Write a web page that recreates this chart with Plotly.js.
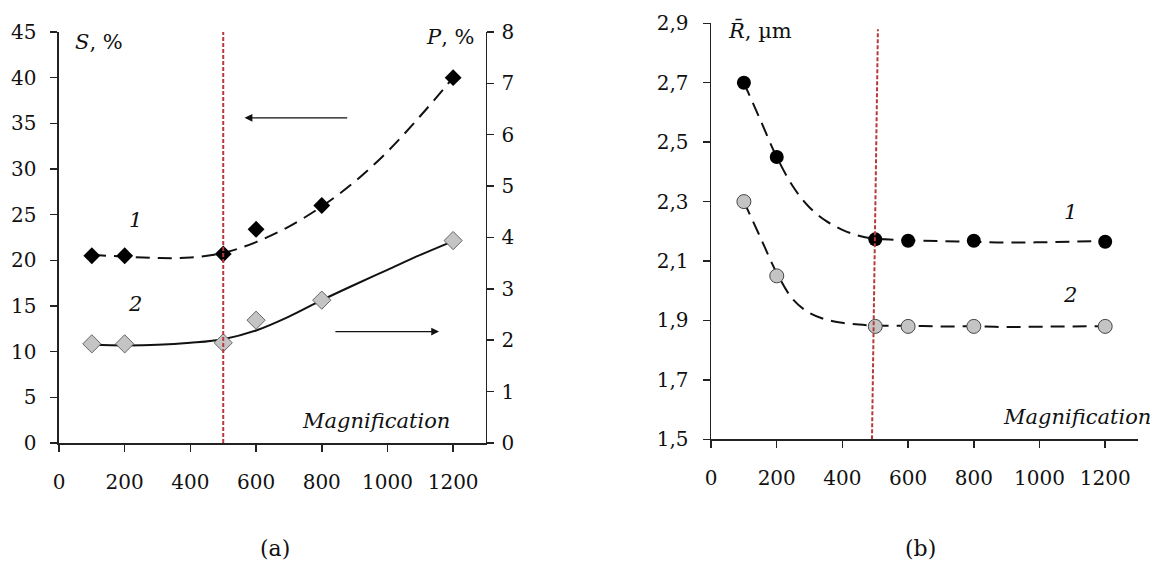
<!DOCTYPE html>
<html><head><meta charset="utf-8">
<script src="https://cdn.plot.ly/plotly-3.0.1.min.js"></script>
<style>body{margin:0;background:#fff}#chart{width:1150px;height:570px}</style>
</head><body><div id="chart"></div>
<script>
// ---- data (a) ----
const magX = [100, 200, 500, 600, 800, 1200];
const sVals = [20.5, 20.5, 20.7, 23.4, 26.0, 40.0];
const pVals = [1.93, 1.93, 1.95, 2.39, 2.78, 3.94];
const trendX = [100, 200, 300, 400, 500, 600, 700, 800, 900, 1000, 1100, 1200];
const sTrendY = [20.6, 20.4, 20.25, 20.3, 20.8, 22.0, 23.7, 25.9, 28.6, 31.9, 35.8, 40.0];
const pTrendY = [1.91, 1.90, 1.91, 1.95, 2.02, 2.19, 2.46, 2.78, 3.08, 3.37, 3.66, 3.93];
// ---- data (b) ----
const r1Vals = [2.70, 2.45, 2.173, 2.168, 2.168, 2.165];
const r2Vals = [2.30, 2.05, 1.88, 1.88, 1.88, 1.88];
const rTrendX = [100, 150, 200, 250, 300, 350, 400, 450, 500, 600, 700, 800, 900, 1000, 1100, 1200];
const r1TrendY = [2.70, 2.575, 2.45, 2.35, 2.28, 2.235, 2.205, 2.185, 2.175, 2.17, 2.167, 2.165, 2.162, 2.163, 2.165, 2.167];
const r2TrendY = [2.30, 2.18, 2.06, 1.97, 1.925, 1.903, 1.892, 1.886, 1.883, 1.882, 1.88, 1.88, 1.878, 1.879, 1.88, 1.88];
// ---- ticks ----
const xTicks = [0, 200, 400, 600, 800, 1000, 1200];
const sTicks = [0, 5, 10, 15, 20, 25, 30, 35, 40, 45];
const pTicks = [0, 1, 2, 3, 4, 5, 6, 7, 8];
const rTicks = [1.5, 1.7, 1.9, 2.1, 2.3, 2.5, 2.7, 2.9];
const rTickText = ['1,5', '1,7', '1,9', '2,1', '2,3', '2,5', '2,7', '2,9'];
// threshold magnification
const threshold = 500;
const thresholdB = [490, 508];

const FONT = 'DejaVu Serif';
const tickFont = {family: FONT, size: 20, color: '#111'};
const axCommon = {showline: true, linecolor: '#222', linewidth: 1.5, ticks: 'outside', ticklen: 7,
  tickcolor: '#222', tickwidth: 1.5, showgrid: false, zeroline: false, tickfont: tickFont, fixedrange: true};

const traces = [
  {x: trendX, y: sTrendY, xaxis: 'x', yaxis: 'y', mode: 'lines', line: {shape: 'spline', color: '#111', width: 2, dash: '14px,8px'}, hoverinfo: 'skip'},
  {x: trendX, y: pTrendY, xaxis: 'x', yaxis: 'y2', mode: 'lines', line: {shape: 'spline', color: '#111', width: 2}, hoverinfo: 'skip'},
  {x: magX, y: sVals, xaxis: 'x', yaxis: 'y', mode: 'markers', marker: {symbol: 'diamond', size: 13, color: '#000'}},
  {x: magX, y: pVals, xaxis: 'x', yaxis: 'y2', mode: 'markers', marker: {symbol: 'diamond', size: 14, color: '#c4c4c4', line: {color: '#666', width: 1}}},
  {x: rTrendX, y: r1TrendY, xaxis: 'x2', yaxis: 'y3', mode: 'lines', line: {shape: 'spline', color: '#111', width: 2, dash: '14px,8px'}, hoverinfo: 'skip'},
  {x: rTrendX, y: r2TrendY, xaxis: 'x2', yaxis: 'y3', mode: 'lines', line: {shape: 'spline', color: '#111', width: 2, dash: '14px,8px'}, hoverinfo: 'skip'},
  {x: magX, y: r1Vals, xaxis: 'x2', yaxis: 'y3', mode: 'markers', marker: {symbol: 'circle', size: 14, color: '#000'}},
  {x: magX, y: r2Vals, xaxis: 'x2', yaxis: 'y3', mode: 'markers', marker: {symbol: 'circle', size: 14, color: '#c4c4c4', line: {color: '#444', width: 1}}}
];

const annFont = {family: FONT, size: 21, color: '#111'};
const layout = {
  width: 1150, height: 570, margin: {l: 0, r: 0, t: 0, b: 0},
  paper_bgcolor: '#fff', plot_bgcolor: '#fff', showlegend: false,
  xaxis: Object.assign({}, axCommon, {domain: [0.0513, 0.4226], range: [0, 1300], tickvals: xTicks, anchor: 'y', ticklabelstandoff: 13}),
  yaxis: Object.assign({}, axCommon, {domain: [0.2228, 0.9439], range: [0, 45], tickvals: sTicks, anchor: 'x', ticklabelstandoff: 10}),
  yaxis2: Object.assign({}, axCommon, {range: [0, 8], tickvals: pTicks, overlaying: 'y', side: 'right', anchor: 'x', ticklabelstandoff: 3}),
  xaxis2: Object.assign({}, axCommon, {domain: [0.6183, 0.9896], range: [0, 1300], tickvals: xTicks, anchor: 'y3', ticklabelstandoff: 13}),
  yaxis3: Object.assign({}, axCommon, {domain: [0.2293, 0.9591], range: [1.5, 2.9], tickvals: rTicks, ticktext: rTickText, anchor: 'x2', ticklabelstandoff: 10}),
  shapes: [
    {type: 'line', xref: 'x', yref: 'y', x0: threshold, x1: threshold, y0: 0, y1: 45, line: {color: '#b8393b', width: 2, dash: '4px,2px'}},
    {type: 'line', xref: 'x2', yref: 'y3', x0: thresholdB[0], x1: thresholdB[1], y0: 1.5, y1: 2.88, line: {color: '#b8393b', width: 2, dash: '4px,2px'}}
  ],
  annotations: [
    {xref: 'x', yref: 'y', x: 43, y: 43.9, text: '<i>S</i>, %', showarrow: false, xanchor: 'left', yanchor: 'middle', font: annFont},
    {xref: 'x', yref: 'y', x: 1270, y: 44.5, text: '<i>P</i>, %', showarrow: false, xanchor: 'right', yanchor: 'middle', font: annFont},
    {xref: 'x', yref: 'y', x: 232, y: 24.4, text: '<i>1</i>', showarrow: false, font: annFont},
    {xref: 'x', yref: 'y', x: 232, y: 15.2, text: '<i>2</i>', showarrow: false, font: annFont},
    {xref: 'x', yref: 'y', x: 965, y: 2.4, text: '<i>Magnification</i>', showarrow: false, font: annFont},
    {xref: 'x', yref: 'y', x: 565, y: 35.6, ax: 882, ay: 35.6, axref: 'x', ayref: 'y', text: '', showarrow: true, arrowhead: 2, arrowsize: 1.3, arrowwidth: 1.2, arrowcolor: '#111'},
    {xref: 'x', yref: 'y', x: 1157, y: 12.2, ax: 837, ay: 12.2, axref: 'x', ayref: 'y', text: '', showarrow: true, arrowhead: 2, arrowsize: 1.3, arrowwidth: 1.2, arrowcolor: '#111'},
    {xref: 'x2', yref: 'y3', x: 46, y: 2.875, text: '<i>R̄</i>, µm', showarrow: false, xanchor: 'left', yanchor: 'middle', font: annFont},
    {xref: 'x2', yref: 'y3', x: 1093, y: 2.265, text: '<i>1</i>', showarrow: false, font: annFont},
    {xref: 'x2', yref: 'y3', x: 1093, y: 1.986, text: '<i>2</i>', showarrow: false, font: annFont},
    {xref: 'x2', yref: 'y3', x: 1113, y: 1.575, text: '<i>Magnification</i>', showarrow: false, font: annFont},
    {xref: 'paper', yref: 'paper', x: 0.239, y: 0.037, xanchor: 'center', yanchor: 'middle', text: '(a)', showarrow: false, font: {family: FONT, size: 22, color: '#111'}},
    {xref: 'paper', yref: 'paper', x: 0.800, y: 0.037, xanchor: 'center', yanchor: 'middle', text: '(b)', showarrow: false, font: {family: FONT, size: 22, color: '#111'}}
  ]
};
Plotly.newPlot('chart', traces, layout, {displayModeBar: false, staticPlot: true});
</script>
</body></html>
